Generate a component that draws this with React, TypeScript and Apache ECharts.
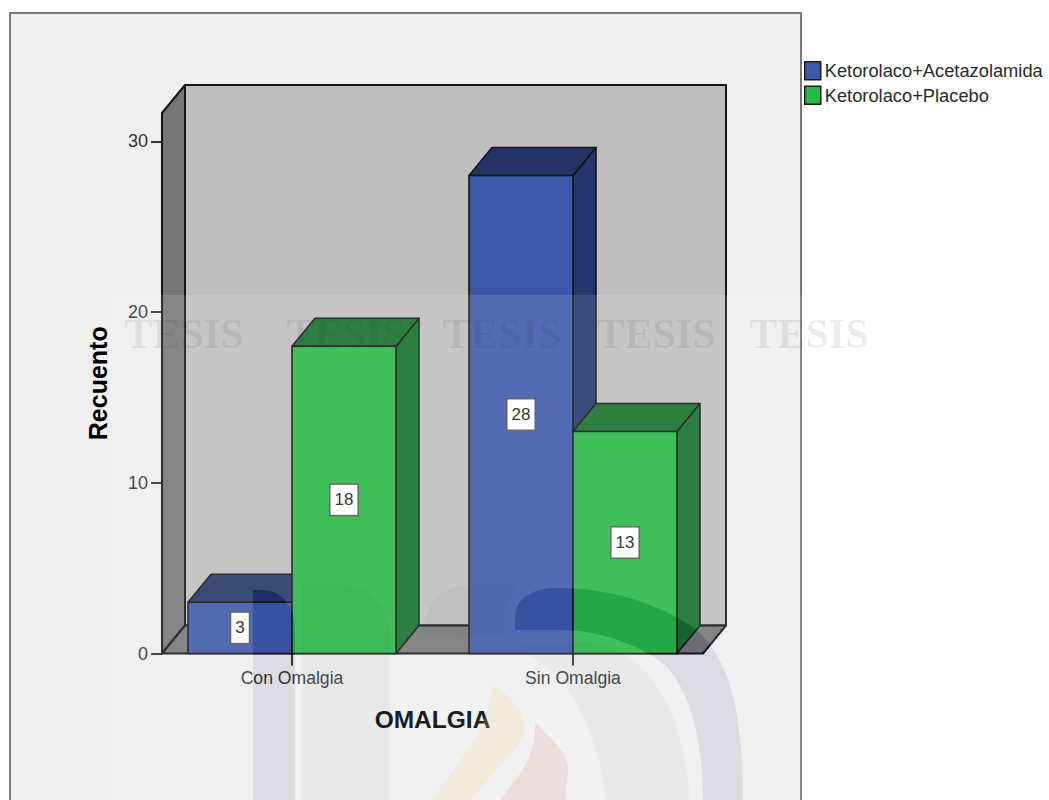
import React, { useEffect, useRef } from "react";
import * as echarts from "echarts";

const categories = ["Con Omalgia", "Sin Omalgia"];
const acetazolamida = [3, 28];
const placebo = [18, 13];
const seriesNames = ["Ketorolaco+Acetazolamida", "Ketorolaco+Placebo"];
const yTicks = [0, 10, 20, 30];
const watermarkWord = "TESIS";
const watermarkX = [184, 346, 502, 656, 809];

// Oblique projection of the box and its bars
const DEPTH_X = 23;
const DEPTH_Y = -28;
const AXIS_INSET = 10.5;
const BAR_SHARE = 0.37;

const SANS = '"Liberation Sans", Arial, sans-serif';

// Watermark outlines
const DARK_BAR = "M253,800 L253,590 L265,590 C282,592 295,605 295,632 L295,800 Z ";
const DARK_ARCH =
  "M515,630 L515,618 C515,600 530,588 558,588 C610,588 655,603 690,625 C725,650 743,700 743,800 L703,800 C703,740 690,690 665,665 C640,645 600,630 560,630 Z ";
const LIGHT_BAR = "M302,800 L302,585 L345,585 C370,587 390,605 390,640 L390,800 Z";
const LIGHT_TONGUE = "M422,635 C425,605 440,585 470,585 L520,585 C508,595 503,610 503,630 L503,638 Z";
const LIGHT_ARC = "M520,642 L590,642 C640,652 682,692 690,800 L606,800 C600,740 570,668 520,652 Z";
const FLAME_YELLOW = "M493,685 C510,695 525,712 525,730 C520,750 490,775 470,800 L432,800 C455,765 490,730 493,685 Z";
const FLAME_RED = "M535,722 C550,740 570,750 568,775 L565,800 L500,800 C520,775 537,755 535,722 Z";
// The veil covers the lower page except where the darker strokes let the chart through
const VEIL = "M110,295 V800 H880 V295 Z " + DARK_BAR + DARK_ARCH;

const g = echarts.graphic as any;
g.registerShape("wmVeil", g.extendPath(VEIL, {}));
g.registerShape("wmDark", g.extendPath(DARK_BAR + DARK_ARCH, {}));
g.registerShape("wmLightBar", g.extendPath(LIGHT_BAR, {}));
g.registerShape("wmLightTongue", g.extendPath(LIGHT_TONGUE, {}));
g.registerShape("wmLightArc", g.extendPath(LIGHT_ARC, {}));
g.registerShape("wmFlameYellow", g.extendPath(FLAME_YELLOW, {}));
g.registerShape("wmFlameRed", g.extendPath(FLAME_RED, {}));

const EDGE = { stroke: "#151515", lineWidth: 1.6, lineJoin: "round" };

// The open box: back wall, left wall and floor
function renderRoom(params: any) {
  const c = params.coordSys;
  const left = c.x + AXIS_INSET;
  const right = c.x + c.width - AXIS_INSET;
  const top = c.y;
  const bottom = c.y + c.height;
  const wall = (points: number[][], fill: string) => ({
    type: "polygon",
    shape: { points },
    style: { fill, ...EDGE, lineWidth: 2 },
  });
  return {
    type: "group",
    children: [
      wall(
        [
          [left + DEPTH_X, top + DEPTH_Y],
          [right + DEPTH_X, top + DEPTH_Y],
          [right + DEPTH_X, bottom + DEPTH_Y],
          [left + DEPTH_X, bottom + DEPTH_Y],
        ],
        "#bebebe"
      ),
      wall(
        [
          [left, top],
          [left + DEPTH_X, top + DEPTH_Y],
          [left + DEPTH_X, bottom + DEPTH_Y],
          [left, bottom],
        ],
        "#767676"
      ),
      wall(
        [
          [left, bottom],
          [left + DEPTH_X, bottom + DEPTH_Y],
          [right + DEPTH_X, bottom + DEPTH_Y],
          [right, bottom],
        ],
        "#767676"
      ),
    ],
  };
}

// One extruded bar with its value tag; side is -1 for the left bar of a pair, 0 for the right
function makeBarRenderer(side: number, front: string, sideFill: string, topFill: string) {
  return (_params: any, api: any) => {
    const cat = api.value(0);
    const val = api.value(1);
    const tip = api.coord([cat, val]);
    const base = api.coord([cat, 0]);
    const width = api.size([1, 0])[0] * BAR_SHARE;
    const x0 = tip[0] + side * width;
    const x1 = x0 + width;
    const y0 = tip[1];
    const y1 = base[1];
    return {
      type: "group",
      children: [
        {
          type: "polygon",
          shape: {
            points: [
              [x1, y0],
              [x1 + DEPTH_X, y0 + DEPTH_Y],
              [x1 + DEPTH_X, y1 + DEPTH_Y],
              [x1, y1],
            ],
          },
          style: { fill: sideFill, ...EDGE },
        },
        {
          type: "polygon",
          shape: {
            points: [
              [x0, y0],
              [x0 + DEPTH_X, y0 + DEPTH_Y],
              [x1 + DEPTH_X, y0 + DEPTH_Y],
              [x1, y0],
            ],
          },
          style: { fill: topFill, ...EDGE },
        },
        {
          type: "rect",
          shape: { x: x0, y: y0, width, height: y1 - y0 },
          style: { fill: front, ...EDGE },
        },
        {
          type: "text",
          z2: 10,
          style: {
            x: (x0 + x1) / 2,
            y: (y0 + y1) / 2,
            text: String(val),
            fill: "#222",
            font: `17px ${SANS}`,
            align: "center",
            verticalAlign: "middle",
            backgroundColor: "#ffffff",
            borderColor: "#555",
            borderWidth: 1.5,
            padding: [7, 4, 6, 4],
          },
        },
      ],
    };
  };
}

function toPoints(values: number[]) {
  return values.map((v, i) => [i, v]);
}

export default function App() {
  const ref = useRef<HTMLDivElement>(null);

  useEffect(() => {
    const chart = echarts.init(ref.current!, null, { renderer: "svg" });
    const wash = (type: string, fill: string, z: number) => ({
      type,
      x: 0,
      y: 0,
      z,
      silent: true,
      style: { fill },
    });
    chart.setOption({
      animation: false,
      backgroundColor: "#ffffff",
      grid: { left: 151.5, top: 113, width: 562, height: 540.5 },
      legend: {
        left: 804,
        top: 61,
        padding: 0,
        orient: "vertical",
        itemWidth: 16,
        itemHeight: 18,
        itemGap: 5,
        data: seriesNames.map((name) => ({ name, icon: "rect" })),
        itemStyle: { borderColor: "#1c1c1c", borderWidth: 1.5 },
        textStyle: { fontFamily: SANS, fontSize: 18.3, color: "#2a2a2a", padding: [0, 0, 0, -1] },
        selectedMode: false,
      },
      xAxis: {
        type: "category",
        data: categories,
        name: "OMALGIA",
        nameLocation: "middle",
        nameGap: 53,
        nameTextStyle: { fontFamily: SANS, fontSize: 24.5, fontWeight: "bold", color: "#000" },
        axisLine: { show: false },
        axisTick: { show: true, alignWithLabel: true, length: 12, lineStyle: { color: "#333", width: 2 } },
        axisLabel: { fontFamily: SANS, fontSize: 17.6, color: "#333", margin: 15 },
      },
      yAxis: {
        type: "value",
        min: 0,
        max: 31.66,
        interval: 10,
        offset: -AXIS_INSET,
        name: "Recuento",
        nameLocation: "middle",
        nameGap: 52,
        nameTextStyle: { fontFamily: SANS, fontSize: 25, fontWeight: "bold", color: "#000" },
        axisLine: { show: false },
        axisTick: { show: true, length: 11, customValues: yTicks, lineStyle: { color: "#333", width: 2 } },
        axisLabel: { fontFamily: SANS, fontSize: 18, color: "#333", margin: 14, customValues: yTicks },
        splitLine: { show: false },
      },
      series: [
        {
          type: "custom",
          name: "room",
          coordinateSystem: "cartesian2d",
          silent: true,
          data: [[0, 0]],
          renderItem: renderRoom,
          z: 1,
        },
        {
          type: "custom",
          name: seriesNames[0],
          coordinateSystem: "cartesian2d",
          encode: { x: 0, y: 1 },
          data: toPoints(acetazolamida),
          itemStyle: { color: "#3d58a9" },
          renderItem: makeBarRenderer(-1, "#3d58a9", "#25366e", "#243466"),
          z: 2,
        },
        {
          type: "custom",
          name: seriesNames[1],
          coordinateSystem: "cartesian2d",
          encode: { x: 0, y: 1 },
          data: toPoints(placebo),
          itemStyle: { color: "#28b848" },
          renderItem: makeBarRenderer(0, "#28b646", "#156f2b", "#156f2b"),
          z: 3,
        },
      ],
      graphic: {
        elements: [
          {
            type: "rect",
            z: -10,
            silent: true,
            shape: { x: 10, y: 13, width: 791, height: 800 },
            style: { fill: "#efefef", stroke: "#7a7a7a", lineWidth: 2 },
          },
          wash("wmVeil", "rgba(255,255,255,0.11)", 50),
          wash("wmDark", "rgba(0,0,75,0.08)", 51),
          wash("wmLightBar", "rgba(20,20,60,0.03)", 51),
          wash("wmLightTongue", "rgba(20,20,60,0.03)", 51),
          wash("wmLightArc", "rgba(20,20,60,0.03)", 51),
          wash("wmFlameYellow", "rgba(250,210,130,0.2)", 51),
          wash("wmFlameRed", "rgba(225,130,145,0.17)", 51),
          ...watermarkX.map((x) => ({
            type: "text",
            x,
            y: 334,
            z: 52,
            silent: true,
            style: {
              text: watermarkWord,
              font: 'bold 42px "Liberation Serif", serif',
              fill: "rgba(50,50,50,0.09)",
              align: "center",
              verticalAlign: "middle",
            },
          })),
        ],
      },
    });
    return () => chart.dispose();
  }, []);

  return (
    <div
      ref={ref}
      style={{ position: "fixed", left: 0, top: 0, width: 1049, height: 800 }}
    />
  );
}
